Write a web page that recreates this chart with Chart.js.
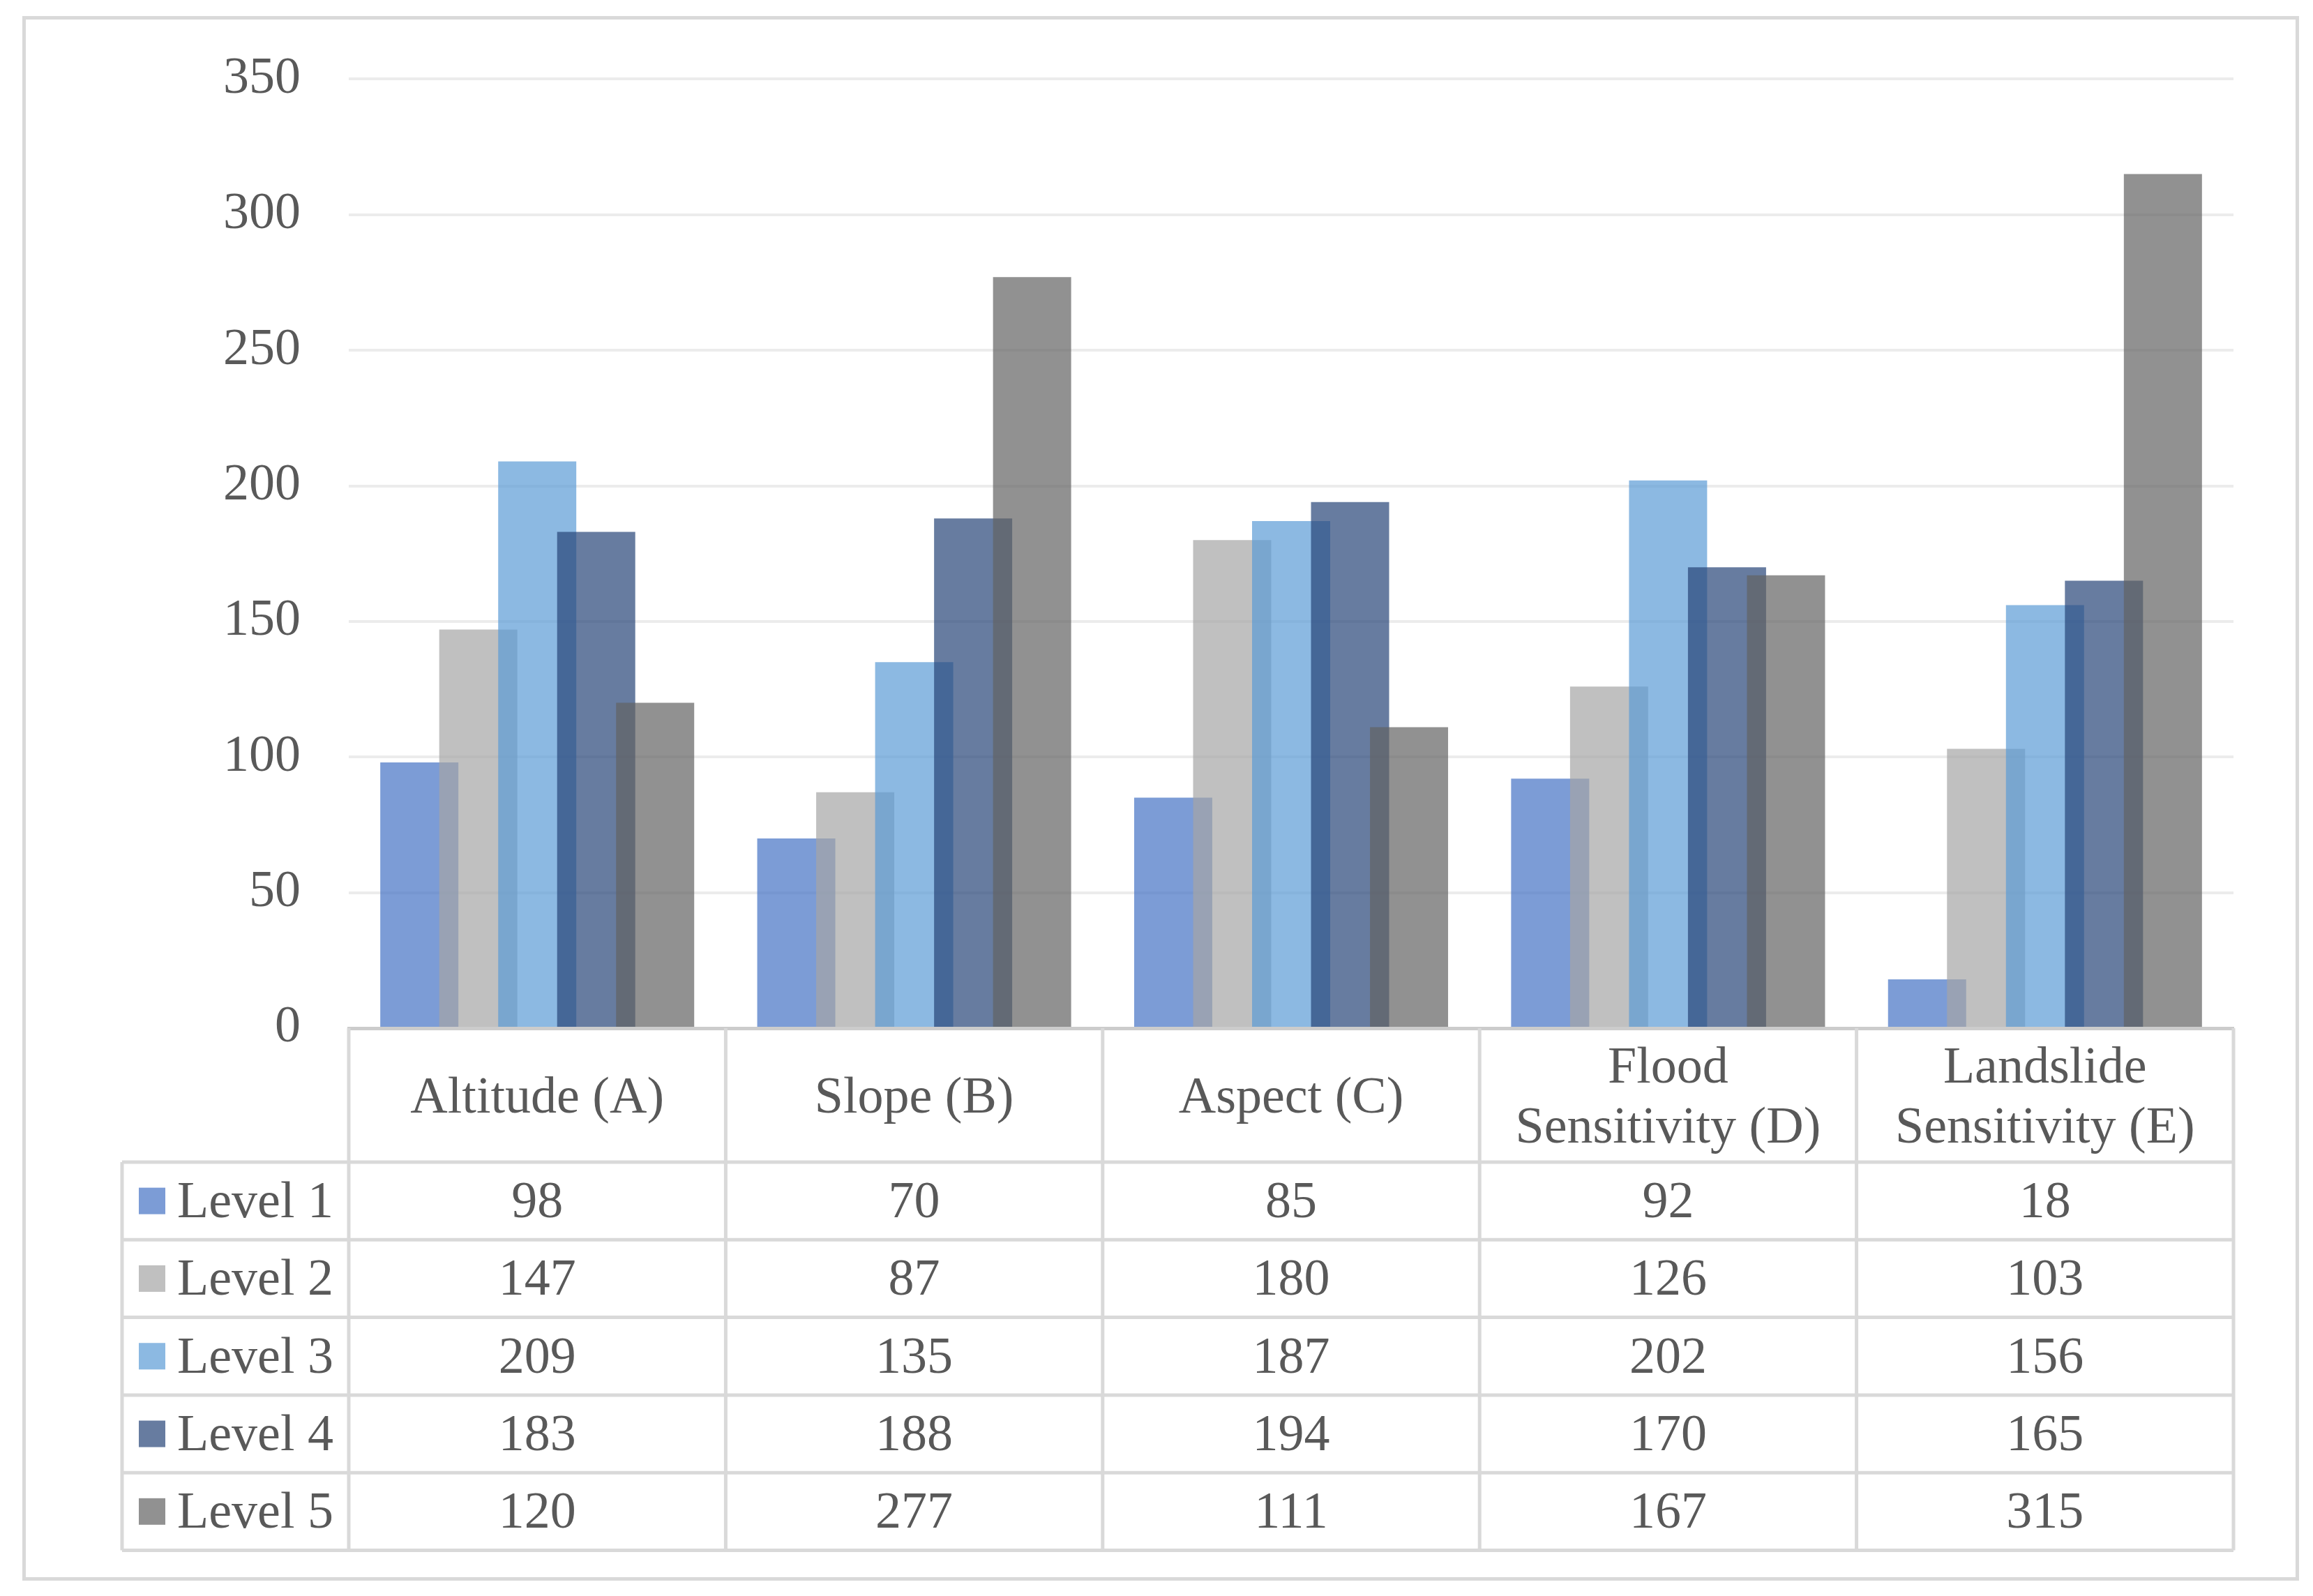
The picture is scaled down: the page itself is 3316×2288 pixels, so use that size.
<!DOCTYPE html>
<html>
<head>
<meta charset="utf-8">
<script src="https://cdn.jsdelivr.net/npm/chart.js@4.4.1/dist/chart.umd.min.js"></script>
<style>
  html, body { margin: 0; padding: 0; background: #ffffff; }
  #wrap { width: 3316px; height: 2288px; position: relative; }
  canvas { display: block; }
</style>
</head>
<body>
<div id="wrap"><canvas id="c" width="3316" height="2288" style="width:3316px;height:2288px"></canvas></div>
<script>
// ---------------- DATA ----------------
const categories = [
  'Altitude (A)',
  'Slope (B)',
  'Aspect (C)',
  ['Flood', 'Sensitivity (D)'],
  ['Landslide', 'Sensitivity (E)']
];
const seriesNames = ['Level 1', 'Level 2', 'Level 3', 'Level 4', 'Level 5'];
const level1 = [98, 70, 85, 92, 18];
const level2 = [147, 87, 180, 126, 103];
const level3 = [209, 135, 187, 202, 156];
const level4 = [183, 188, 194, 170, 165];
const level5 = [120, 277, 111, 167, 315];
const yTickValues = [0, 50, 100, 150, 200, 250, 300, 350];

// ---------------- STYLE ----------------
const seriesColors = [
  'rgba(68,114,196,0.7)',
  'rgba(165,165,165,0.7)',
  'rgba(91,155,213,0.7)',
  'rgba(38,68,120,0.7)',
  'rgba(99,99,99,0.7)'
];
const FONT = "'Liberation Serif', 'Times New Roman', serif";
const FONT_SIZE = 74;
const TEXT_COLOR = '#595959';
const LINE_COLOR = '#d9d9d9';
const TABLE = { left: 175, rowHeight: 111.3, headerHeight: 192, keyX: 199, keySize: 38, textX: 254, lineWidth: 5 };

const allSeries = [level1, level2, level3, level4, level5];

Chart.defaults.font.family = FONT;

// Draw datasets so later series lie on top of earlier ones
const forwardDrawPlugin = {
  id: 'forwardDraw',
  beforeDatasetsDraw(chart) {
    const ctx = chart.ctx;
    const a = chart.chartArea;
    ctx.save();
    ctx.beginPath();
    ctx.rect(a.left, a.top, a.right - a.left, a.bottom - a.top);
    ctx.clip();
    chart.getSortedVisibleDatasetMetas().forEach(meta => meta.controller.draw());
    ctx.restore();
    return false;
  }
};

const bgPlugin = {
  id: 'bg',
  beforeDraw(chart) {
    const ctx = chart.ctx;
    ctx.save();
    ctx.fillStyle = '#ffffff';
    ctx.fillRect(0, 0, chart.width, chart.height);
    ctx.restore();
  }
};

const tablePlugin = {
  id: 'dataTable',
  afterDraw(chart) {
    const ctx = chart.ctx;
    const xs = chart.scales.x;
    const top = xs.bottom;
    const n = seriesNames.length;
    const rowH = TABLE.rowHeight;
    const bottom = top + n * rowH;
    const right = xs.right;
    ctx.save();
    ctx.strokeStyle = LINE_COLOR;
    ctx.lineWidth = TABLE.lineWidth;
    const line = (x1, y1, x2, y2) => { ctx.beginPath(); ctx.moveTo(x1, y1); ctx.lineTo(x2, y2); ctx.stroke(); };
    for (let r = 0; r <= n; r++) {
      const y = top + r * rowH;
      line(TABLE.left, y, right, y);
    }
    for (let i = 0; i <= categories.length; i++) {
      const x = xs.getPixelForValue(i - 0.5);
      line(x, xs.top, x, bottom);
    }
    line(TABLE.left, top, TABLE.left, bottom);

    ctx.font = FONT_SIZE + 'px ' + FONT;
    ctx.textBaseline = 'middle';
    seriesNames.forEach((name, r) => {
      const cy = top + (r + 0.5) * rowH;
      ctx.fillStyle = seriesColors[r];
      ctx.fillRect(TABLE.keyX, cy - TABLE.keySize / 2, TABLE.keySize, TABLE.keySize);
      ctx.fillStyle = TEXT_COLOR;
      ctx.textAlign = 'left';
      ctx.fillText(name, TABLE.textX, cy + 4);
      ctx.textAlign = 'center';
      allSeries[r].forEach((v, i) => {
        ctx.fillText(String(v), xs.getPixelForValue(i), cy + 4);
      });
    });

    // outer chart border
    ctx.strokeStyle = LINE_COLOR;
    ctx.lineWidth = 5;
    ctx.strokeRect(34.5, 25.5, 3259, 2238);
    ctx.restore();
  }
};

new Chart(document.getElementById('c'), {
  type: 'bar',
  data: {
    labels: categories,
    datasets: seriesNames.map((name, i) => ({
      label: name,
      data: allSeries[i],
      backgroundColor: seriesColors[i],
      borderWidth: 0,
      categoryPercentage: 0.782,
      barPercentage: 1.325
    }))
  },
  options: {
    responsive: false,
    devicePixelRatio: 1,
    animation: false,
    layout: { padding: { left: 0, right: 114, top: 112, bottom: 622 } },
    plugins: { legend: { display: false }, tooltip: { enabled: false } },
    scales: {
      x: {
        type: 'category',
        offset: true,
        grid: { drawOnChartArea: false, drawTicks: false },
        border: { display: true, color: '#cccccc', width: 5 },
        ticks: {
          color: TEXT_COLOR,
          font: { family: FONT, size: FONT_SIZE, lineHeight: 1.16 },
          padding: 59,
          maxRotation: 0,
          minRotation: 0,
          autoSkip: false,
          crossAlign: 'center'
        },
        afterFit(s) { s.height = TABLE.headerHeight; }
      },
      y: {
        min: yTickValues[0],
        max: yTickValues[yTickValues.length - 1],
        afterBuildTicks(s) { s.ticks = yTickValues.map(v => ({ value: v })); },
        ticks: {
          color: TEXT_COLOR,
          font: { family: FONT, size: FONT_SIZE },
          padding: 69
        },
        grid: { color: '#ececec', lineWidth: 4, drawTicks: false },
        border: { display: false },
        afterFit(s) { s.width = 500; }
      }
    }
  },
  plugins: [bgPlugin, forwardDrawPlugin, tablePlugin]
});
</script>
</body>
</html>
